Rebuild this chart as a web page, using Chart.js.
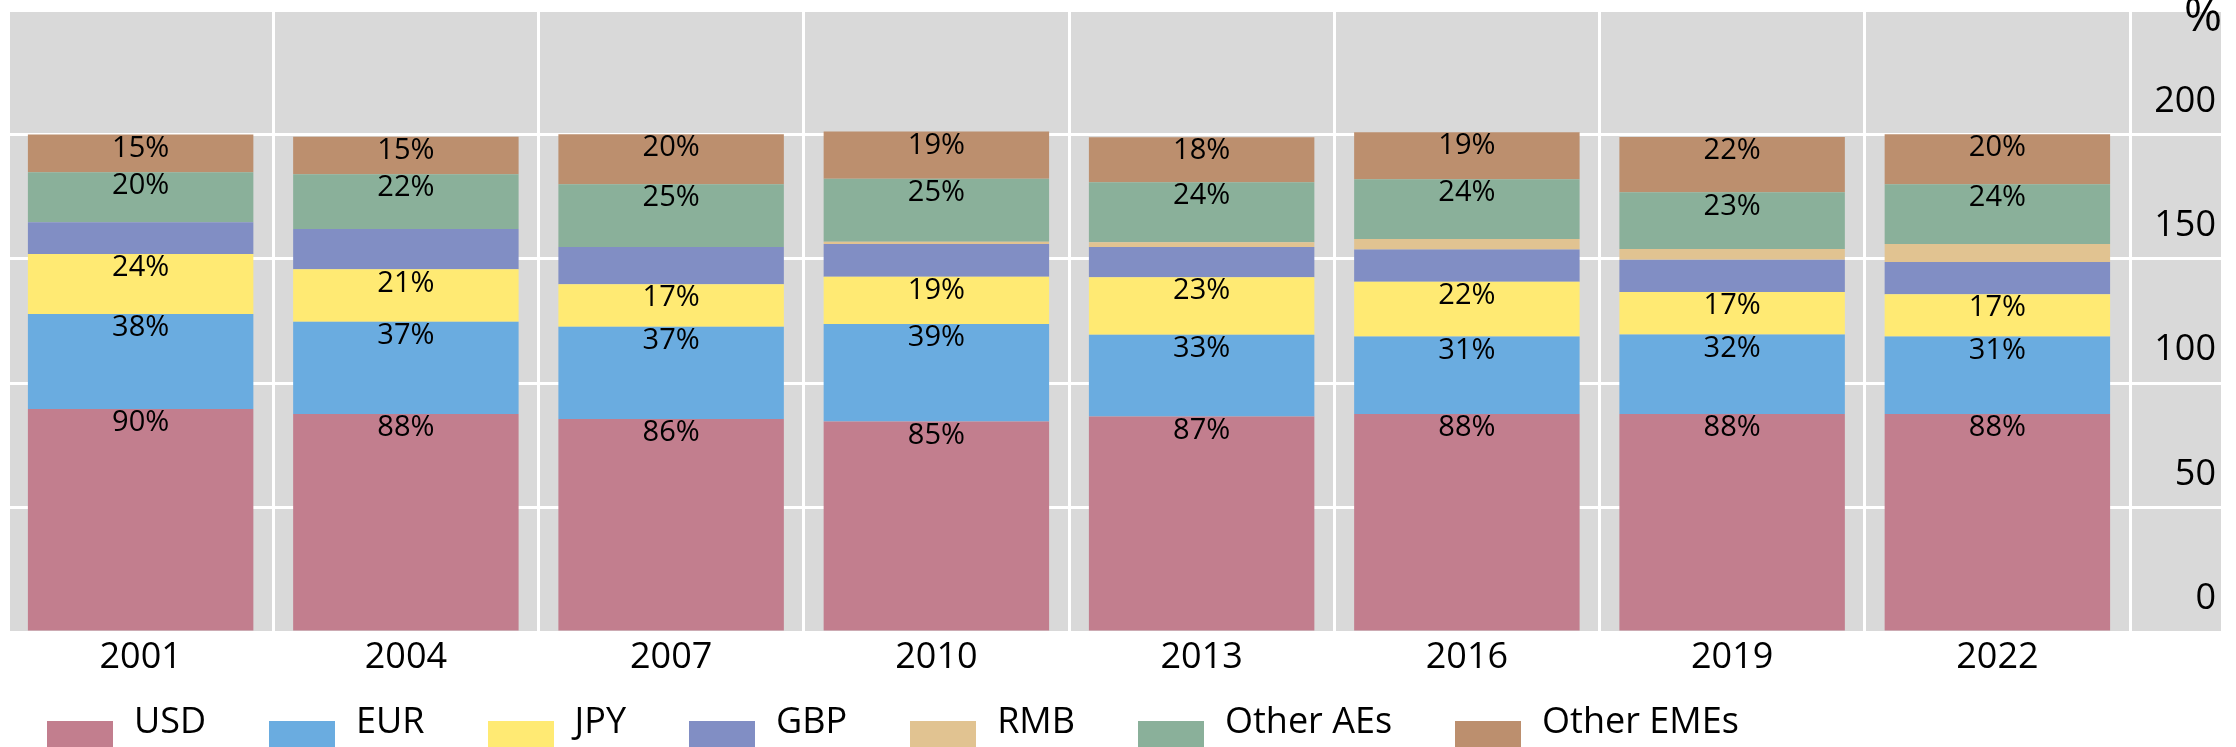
<!DOCTYPE html>
<html><head><meta charset="utf-8">
<script src="https://cdn.jsdelivr.net/npm/chart.js@4.4.0/dist/chart.umd.min.js"></script>
<style>
html,body{margin:0;padding:0;background:#fff;overflow:hidden;width:2236px;height:747px;}
#wrap{position:relative;width:2236px;height:747px;overflow:hidden;}
canvas{position:absolute;left:0;top:0;}
#legend{position:absolute;left:47px;top:700px;display:flex;font-family:'Open Sans',sans-serif;font-size:36px;line-height:40px;color:#000;white-space:nowrap;}
.item{display:flex;align-items:flex-start;margin-right:63px;}
.box{width:66px;height:30px;margin-top:21px;margin-right:21px;}
</style></head>
<body><div id="wrap"><canvas id="c" width="2236" height="747"></canvas><div id="legend"></div></div>
<script>
const categories = ['2001','2004','2007','2010','2013','2016','2019','2022'];
const usd       = [89.6, 87.6, 85.6, 84.6, 86.6, 87.6, 87.6, 87.6];
const eur       = [38.2, 37.1, 37.1, 39.2, 32.9, 31.2, 32.0, 31.2];
const jpy       = [24.1, 21.1, 17.1, 19.0, 23.1, 22.0, 17.1, 17.0];
const gbp       = [12.8, 16.2, 14.9, 13.1, 12.1, 12.9, 12.9, 12.9];
const rmb       = [0.0, 0.0, 0.0, 1.0, 2.0, 4.3, 4.3, 7.2];
const otherAEs  = [20.1, 22.0, 25.3, 25.3, 24.1, 24.0, 22.8, 24.1];
const otherEMEs = [15.2, 15.1, 20.1, 19.0, 18.1, 18.9, 22.3, 20.1];
const seriesNames  = ['USD','EUR','JPY','GBP','RMB','Other AEs','Other EMEs'];
const seriesValues = [usd, eur, jpy, gbp, rmb, otherAEs, otherEMEs];
const seriesColors = ['#C27E8E','#6AACE0','#FFEA73','#818EC4','#E1C391','#8AB09A','#BC8F6E'];
const labelledSeries = ['USD','EUR','JPY','Other AEs','Other EMEs'];
const yMax = 250, yStep = 50, yLabelMax = 200;
const unitLabel = '%';

const FONT = "'Open Sans', sans-serif";

const bgPlugin = {
  id: 'bg',
  beforeDraw(chart) {
    const {ctx, chartArea} = chart;
    const ys = chart.scales.y;
    ctx.save();
    ctx.fillStyle = '#D9D9D9';
    const right = ys.left + 91;
    ctx.fillRect(chartArea.left, chartArea.top, right - chartArea.left, chartArea.bottom - chartArea.top);
    ctx.restore();
  }
};

const labelPlugin = {
  id: 'vals',
  afterDatasetsDraw(chart) {
    const ctx = chart.ctx;
    ctx.save();
    ctx.font = '29px ' + FONT;
    ctx.fillStyle = '#000';
    ctx.textAlign = 'center';
    ctx.textBaseline = 'middle';
    chart.data.datasets.forEach((ds, di) => {
      if (!labelledSeries.includes(ds.label)) return;
      const meta = chart.getDatasetMeta(di);
      meta.data.forEach((el, i) => {
        ctx.fillText(Math.round(ds.data[i]) + '%', el.x, el.y + 14);
      });
    });
    const ys = chart.scales.y;
    ctx.font = '46px ' + FONT;
    ctx.textAlign = 'right';
    ctx.textBaseline = 'alphabetic';
    ctx.fillText(unitLabel, ys.left + 92, 31);
    ctx.restore();
  }
};

new Chart(document.getElementById('c'), {
  type: 'bar',
  data: {
    labels: categories,
    datasets: seriesNames.map((n, i) => ({
      label: n,
      data: seriesValues[i],
      backgroundColor: seriesColors[i],
      borderWidth: 0,
      barPercentage: 1,
      categoryPercentage: 0.85
    }))
  },
  options: {
    responsive: false,
    animation: false,
    devicePixelRatio: 1,
    layout: { padding: { left: 8, top: 10, right: 20, bottom: 0 } },
    plugins: { legend: { display: false }, tooltip: { enabled: false } },
    scales: {
      x: {
        stacked: true,
        grid: { color: '#FFFFFF', lineWidth: 3, drawTicks: false, offset: true },
        border: { display: false },
        ticks: { color: '#000', font: { family: FONT, size: 36 }, padding: 4, maxRotation: 0 },
        afterFit(s) { s.height = 115; s.paddingLeft = 0; s.paddingRight = 0; }
      },
      y: {
        stacked: true,
        position: 'right',
        min: 0, max: yMax,
        grid: { color: '#FFFFFF', lineWidth: 3, drawTicks: true, tickLength: 91 },
        border: { display: true, color: '#FFFFFF', width: 3 },
        ticks: {
          stepSize: yStep,
          color: '#000',
          font: { family: FONT, size: 36 },
          crossAlign: 'far',
          padding: 0,
          labelOffset: -33,
          callback: v => (v > yLabelMax ? '' : String(v))
        },
        afterFit(s) { s.width = 86; s.paddingTop = 0; s.paddingBottom = 0; }
      }
    }
  },
  plugins: [bgPlugin, labelPlugin]
});

const lg = document.getElementById('legend');
seriesNames.forEach((n, i) => {
  const it = document.createElement('div');
  it.className = 'item';
  const b = document.createElement('span');
  b.className = 'box';
  b.style.background = seriesColors[i];
  const t = document.createElement('span');
  t.textContent = n;
  it.appendChild(b); it.appendChild(t);
  lg.appendChild(it);
});
</script>
</body></html>
